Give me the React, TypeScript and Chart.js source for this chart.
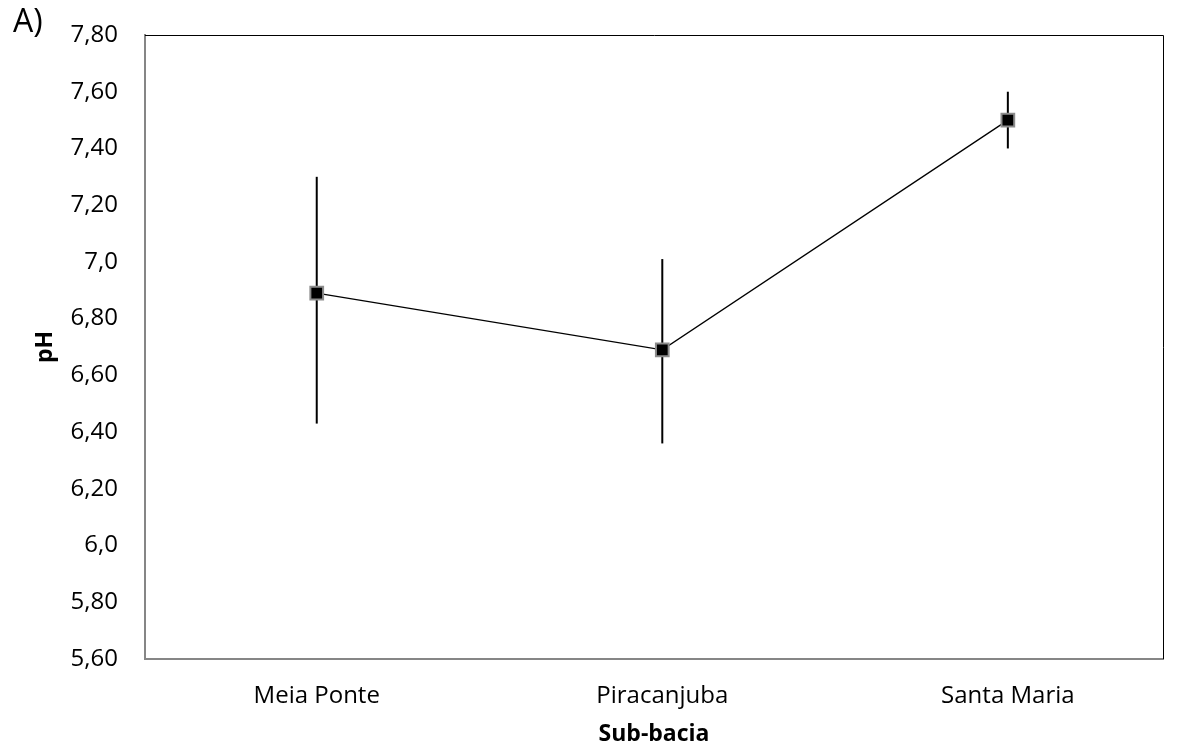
import React, { useEffect, useRef } from "react";
import { Chart, registerables } from "chart.js";

Chart.register(...registerables);

const categories = ["Meia Ponte", "Piracanjuba", "Santa Maria"];
const phMean = [6.89, 6.69, 7.5];
const phLow = [6.43, 6.36, 7.4];
const phHigh = [7.3, 7.01, 7.6];
const yTickValues = [5.6, 5.8, 6.0, 6.2, 6.4, 6.6, 6.8, 7.0, 7.2, 7.4, 7.6, 7.8];
const yTickLabels = ["5,60", "5,80", "6,0", "6,20", "6,40", "6,60", "6,80", "7,0", "7,20", "7,40", "7,60", "7,80"];
const panelLabel = "A)";
const yTitle = "pH";
const xTitle = "Sub-bacia";

const FONT = "'Open Sans', sans-serif";

const errorBarPlugin = {
  id: "errorBars",
  beforeDatasetsDraw(chart: any) {
    const { ctx, scales } = chart;
    ctx.save();
    ctx.strokeStyle = "#000";
    ctx.lineWidth = 2;
    categories.forEach((_, i) => {
      const x = scales.x.getPixelForValue(i);
      const y1 = scales.y.getPixelForValue(phLow[i]);
      const y2 = scales.y.getPixelForValue(phHigh[i]);
      ctx.beginPath();
      ctx.moveTo(x, y1);
      ctx.lineTo(x, y2);
      ctx.stroke();
    });
    ctx.restore();
  },
  afterDraw(chart: any) {
    const { ctx, chartArea } = chart;
    ctx.save();
    ctx.strokeStyle = "#000";
    ctx.lineWidth = 1;
    ctx.beginPath();
    ctx.moveTo(chartArea.left, chartArea.top + 0.5);
    ctx.lineTo(chartArea.right + 0.5, chartArea.top + 0.5);
    ctx.lineTo(chartArea.right + 0.5, chartArea.bottom);
    ctx.stroke();
    ctx.fillStyle = "#000";
    ctx.font = `32px ${FONT}`;
    ctx.textBaseline = "middle";
    ctx.textAlign = "left";
    ctx.fillText(panelLabel, 13, 23);
    ctx.restore();
  },
};

export default function App() {
  const ref = useRef<HTMLCanvasElement>(null);
  useEffect(() => {
    if (!ref.current) return;
    const chart = new Chart(ref.current, {
      type: "line",
      data: {
        datasets: [
          {
            data: phMean.map((v, i) => ({ x: i, y: v })),
            borderColor: "#000",
            borderWidth: 1.3,
            pointStyle: "rect",
            pointRadius: 9,
            pointBackgroundColor: "#000",
            pointBorderColor: "#8c8c8c",
            pointBorderWidth: 2,
            tension: 0,
          },
        ],
      },
      options: {
        animation: false,
        responsive: false,
        maintainAspectRatio: false,
        layout: { padding: { left: 0, right: 20, top: 35, bottom: 0 } },
        plugins: { legend: { display: false }, tooltip: { enabled: false } },
        scales: {
          x: {
            type: "linear",
            min: -0.497,
            max: 2.449,
            grid: { display: false, drawTicks: false },
            border: { display: true, color: "#868686", width: 2 },
            afterBuildTicks: (scale: any) => {
              scale.ticks = categories.map((_, i) => ({ value: i }));
            },
            afterFit: (scale: any) => {
              scale.height = 92;
              scale.paddingLeft = 0;
              scale.paddingRight = 0;
            },
            ticks: {
              autoSkip: false,
              maxRotation: 0,
              padding: 23,
              color: "#000",
              font: { family: FONT, size: 24 },
              callback: (v: any) => categories[v] ?? "",
            },
            title: {
              display: true,
              text: xTitle,
              color: "#000",
              font: { family: FONT, size: 23, weight: "bold" },
              padding: { top: 0, bottom: 3 },
            },
          },
          y: {
            type: "linear",
            min: 5.6,
            max: 7.8,
            grid: { display: false, drawTicks: false },
            border: { display: true, color: "#868686", width: 2 },
            afterBuildTicks: (scale: any) => {
              scale.ticks = yTickValues.map((v) => ({ value: v }));
            },
            afterFit: (scale: any) => {
              scale.width = 145;
              scale.paddingTop = 0;
              scale.paddingBottom = 0;
            },
            ticks: {
              autoSkip: false,
              padding: 27,
              color: "#000",
              font: { family: FONT, size: 24 },
              callback: (v: any) => {
                const idx = yTickValues.findIndex((t) => Math.abs(t - v) < 1e-6);
                return idx >= 0 ? yTickLabels[idx] : "";
              },
            },
            title: {
              display: true,
              text: yTitle,
              color: "#000",
              font: { family: FONT, size: 23, weight: "bold" },
              padding: { top: 32, bottom: 0 },
            },
          },
        },
      },
      plugins: [errorBarPlugin],
    });
    return () => chart.destroy();
  }, []);
  return (
    <div style={{ position: "fixed", left: 0, top: 0, width: 1183, height: 751, background: "#fff" }}>
      <canvas ref={ref} width={1183} height={751} style={{ width: 1183, height: 751, display: "block" }} />
    </div>
  );
}
